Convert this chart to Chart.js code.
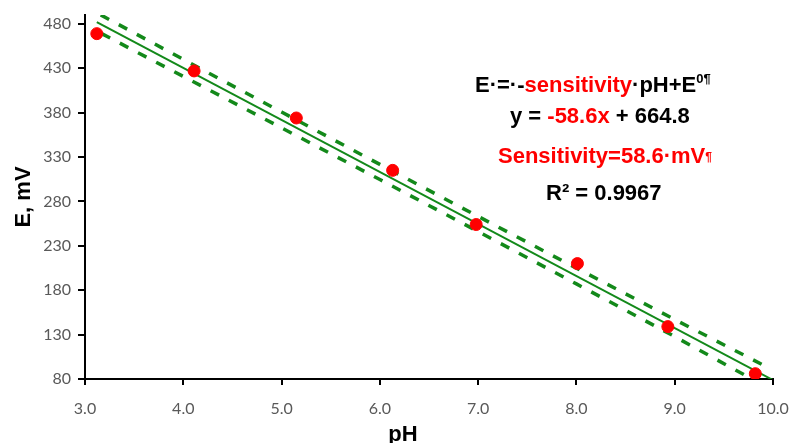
<!DOCTYPE html>
<html><head><meta charset="utf-8">
<script src="https://cdn.jsdelivr.net/npm/chart.js@4.4.1/dist/chart.umd.min.js"></script>
<style>html,body{margin:0;padding:0;background:#fff;}#wrap{width:792px;height:443px;position:relative;}</style>
</head><body><div id="wrap"><canvas id="c" width="792" height="443"></canvas></div>
<script>
// Measured points
const phValues = [3.12, 4.11, 5.15, 6.13, 6.98, 8.01, 8.93, 9.82];
const eValues = [469, 427, 374, 315, 254, 210, 139, 86];
// Linear fit line (y = -58.6x + 664.8) end points
const fitPh = [3.12, 10.0];
const fitE = [482.0, 78.8];
// Dashed band lines
const upperPh = [3.16, 4, 5, 6, 7, 8, 9, 9.94];
const upperE = [490.1, 440.0, 380.7, 321.7, 263.1, 204.9, 147.0, 93.5];
const lowerPh = [3.17, 4, 5, 6, 7, 8, 9, 9.9];
const lowerE = [469.0, 420.8, 362.9, 304.7, 246.1, 187.1, 127.8, 73.0];
// Tick labels
const yTicks = [80, 130, 180, 230, 280, 330, 380, 430, 480];
const xTicks = [3, 4, 5, 6, 7, 8, 9, 10];
const xTitle = 'pH';
const yTitle = 'E, mV';
// Annotation text lines: [text, color, size, raise]
const annotLines = [
  {x: 475, y: 92, parts: [['E\u00B7=\u00B7-', '#000', 22, 0], ['sensitivity', '#ff0000', 22, 0], ['\u00B7pH+E', '#000', 22, 0], ['0\u00B6', '#000', 13, 9]]},
  {x: 510, y: 123, parts: [['y = ', '#000', 22, 0], ['-58.6x', '#ff0000', 22, 0], [' + 664.8', '#000', 22, 0]]},
  {x: 498, y: 163, parts: [['Sensitivity=58.6\u00B7mV', '#ff0000', 22, 0], ['\u00B6', '#ff0000', 12, 2]]},
  {x: 546, y: 200, parts: [['R\u00B2 = 0.9967', '#000', 22, 0]]}
];

const toXY = (xs, ys) => xs.map((x, i) => ({x: x, y: ys[i]}));
const GREEN = '#13891a';

const textPlugin = {
  id: 'texts',
  afterDraw(chart) {
    const ctx = chart.ctx;
    const area = chart.chartArea;
    ctx.save();
    ctx.fillStyle = '#000';
    ctx.font = 'bold 22px "Liberation Sans", Arial, sans-serif';
    ctx.textAlign = 'center';
    ctx.textBaseline = 'alphabetic';
    ctx.fillText(xTitle, 403, 441);
    ctx.save();
    ctx.translate(30, (area.top + area.bottom) / 2);
    ctx.rotate(-Math.PI / 2);
    ctx.fillText(yTitle, 0, 0);
    ctx.restore();
    ctx.textAlign = 'left';
    annotLines.forEach(line => {
      let x = line.x;
      line.parts.forEach(p => {
        ctx.font = 'bold ' + p[2] + 'px "Liberation Sans", Arial, sans-serif';
        ctx.fillStyle = p[1];
        ctx.fillText(p[0], x, line.y - p[3]);
        x += ctx.measureText(p[0]).width;
      });
    });
    ctx.restore();
  }
};

new Chart(document.getElementById('c'), {
  type: 'scatter',
  data: {
    datasets: [
      {
        label: 'Data',
        data: toXY(phValues, eValues),
        backgroundColor: '#ff0000',
        borderColor: '#ff0000',
        pointRadius: 6,
        pointHoverRadius: 6,
        showLine: false
      },
      {
        label: 'Fit',
        data: toXY(fitPh, fitE),
        borderColor: GREEN,
        borderWidth: 2,
        pointRadius: 0,
        showLine: true
      },
      {
        label: 'Upper',
        data: toXY(upperPh, upperE),
        borderColor: GREEN,
        borderWidth: 3.5,
        borderDash: [9.5, 11],
        pointRadius: 0,
        showLine: true,
        clip: 0
      },
      {
        label: 'Lower',
        data: toXY(lowerPh, lowerE),
        borderColor: GREEN,
        borderWidth: 3.5,
        borderDash: [9.5, 11],
        pointRadius: 0,
        showLine: true,
        clip: 0
      }
    ]
  },
  options: {
    responsive: false,
    animation: false,
    devicePixelRatio: 1,
    layout: {padding: {top: 15, right: 19, left: 0, bottom: 0}},
    plugins: {legend: {display: false}, tooltip: {enabled: false}},
    scales: {
      x: {
        type: 'linear',
        min: 3, max: 10,
        afterBuildTicks: s => { s.ticks = xTicks.map(v => ({value: v})); },
        afterFit: s => { s.height = 64; s.paddingLeft = 0; s.paddingRight = 0; },
        grid: {display: true, drawOnChartArea: false, drawTicks: true, tickLength: 6, color: '#000', lineWidth: 2},
        border: {display: true, color: '#000', width: 2},
        ticks: {
          padding: 14,
          color: '#595959',
          font: {family: 'Lato', size: 16},
          callback: v => Number(v).toFixed(1),
          maxRotation: 0
        }
      },
      y: {
        type: 'linear',
        min: 80, max: 490,
        afterBuildTicks: s => { s.ticks = yTicks.map(v => ({value: v})); },
        afterFit: s => { s.width = 85; s.paddingTop = 0; s.paddingBottom = 0; },
        grid: {display: true, drawOnChartArea: false, drawTicks: true, tickLength: 7, color: '#000', lineWidth: 2},
        border: {display: true, color: '#000', width: 2},
        ticks: {
          padding: 7,
          color: '#595959',
          font: {family: 'Lato', size: 16},
          callback: v => String(v)
        }
      }
    }
  },
  plugins: [textPlugin]
});
</script>
</body></html>
